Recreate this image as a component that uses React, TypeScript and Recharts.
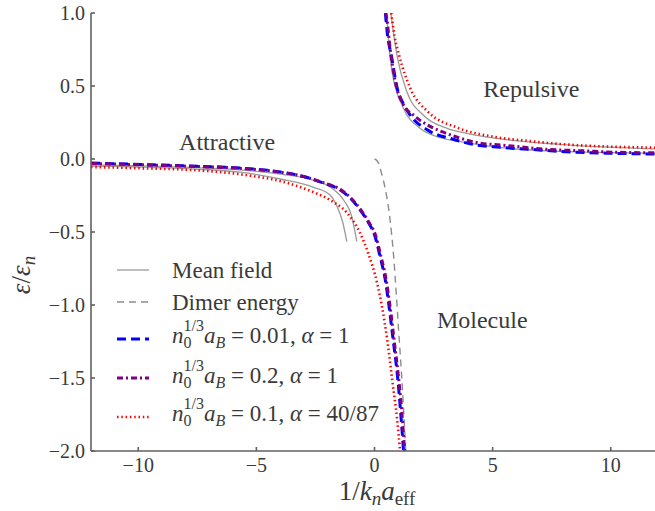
import React from 'react';
import { Line, LineChart, ReferenceDot, XAxis, YAxis } from 'recharts';

const FONT = "'Liberation Serif', 'Times New Roman', 'DejaVu Serif', serif";
const TEXT = '#3a3a3a';
const AXIS = '#606060';

const xTicks = [-10, -5, 0, 5, 10];
const yTicks = [-2, -1.5, -1, -0.5, 0, 0.5, 1];

// mean field, two branches each side
const meanFieldRepA = [
  { x: 0.52, y: 1.0 }, { x: 0.6, y: 0.8 }, { x: 0.74, y: 0.6 }, { x: 1.22, y: 0.35 },
  { x: 1.93, y: 0.21 }, { x: 2.64, y: 0.153 }, { x: 3.62, y: 0.119 }, { x: 5.0, y: 0.085 },
  { x: 7.85, y: 0.052 }, { x: 11.75, y: 0.039 }, { x: 12, y: 0.038 }
];
const meanFieldRepB = [
  { x: 0.69, y: 1.0 }, { x: 0.95, y: 0.712 }, { x: 1.37, y: 0.46 }, { x: 2.07, y: 0.3 },
  { x: 3.07, y: 0.21 }, { x: 3.9, y: 0.176 }, { x: 5.0, y: 0.145 }, { x: 7.85, y: 0.1 },
  { x: 11.75, y: 0.07 }, { x: 12, y: 0.069 }
];
const meanFieldAttA = [
  { x: -12, y: -0.04 }, { x: -9.8, y: -0.047 }, { x: -7.8, y: -0.058 }, { x: -5.68, y: -0.075 },
  { x: -3.99, y: -0.103 }, { x: -2.6, y: -0.144 }, { x: -1.88, y: -0.192 }, { x: -1.31, y: -0.281 },
  { x: -0.96, y: -0.395 }, { x: -0.75, y: -0.566 }
];
const meanFieldAttB = [
  { x: -12, y: -0.048 }, { x: -9.8, y: -0.055 }, { x: -7.8, y: -0.068 }, { x: -5.68, y: -0.09 },
  { x: -3.99, y: -0.137 }, { x: -2.6, y: -0.192 }, { x: -1.88, y: -0.247 }, { x: -1.6, y: -0.32 },
  { x: -1.35, y: -0.43 }, { x: -1.17, y: -0.566 }
];

const dimer = [
  { x: 0, y: 0 }, { x: 0.1, y: -0.01 }, { x: 0.17, y: -0.03 }, { x: 0.3, y: -0.1 },
  { x: 0.45, y: -0.2 }, { x: 0.66, y: -0.418 }, { x: 0.8, y: -0.646 }, { x: 0.875, y: -0.81 },
  { x: 1.02, y: -1.171 }, { x: 1.16, y: -1.514 }, { x: 1.3, y: -1.925 }, { x: 1.33, y: -2.02 }
];

// n0^(1/3) aB = 0.01, alpha = 1
const blueRep = [
  { x: 0.46, y: 1.0 }, { x: 0.55, y: 0.85 }, { x: 0.71, y: 0.712 }, { x: 0.96, y: 0.486 },
  { x: 1.25, y: 0.37 }, { x: 1.51, y: 0.301 }, { x: 2.23, y: 0.2 }, { x: 3.33, y: 0.135 },
  { x: 4.05, y: 0.104 }, { x: 5.31, y: 0.08 }, { x: 6.58, y: 0.066 }, { x: 7.85, y: 0.052 },
  { x: 9.84, y: 0.04 }, { x: 11.75, y: 0.034 }, { x: 12, y: 0.033 }
];
const blueAtt = [
  { x: -12, y: -0.028 }, { x: -9.8, y: -0.038 }, { x: -7.8, y: -0.048 }, { x: -5.68, y: -0.062 },
  { x: -3.99, y: -0.089 }, { x: -3, y: -0.12 }, { x: -2.17, y: -0.164 }, { x: -1.45, y: -0.212 },
  { x: -1.03, y: -0.267 }, { x: -0.61, y: -0.349 }, { x: -0.27, y: -0.432 }, { x: 0.03, y: -0.534 },
  { x: 0.24, y: -0.671 }, { x: 0.45, y: -0.822 }, { x: 0.62, y: -1.014 }, { x: 0.79, y: -1.24 },
  { x: 0.96, y: -1.466 }, { x: 1.09, y: -1.699 }, { x: 1.21, y: -1.959 }, { x: 1.24, y: -2.03 }
];

// n0^(1/3) aB = 0.2, alpha = 1
const purpleRep = [
  { x: 0.48, y: 1.0 }, { x: 0.52, y: 0.964 }, { x: 0.66, y: 0.758 }, { x: 0.88, y: 0.53 },
  { x: 1.23, y: 0.37 }, { x: 1.65, y: 0.3 }, { x: 2.22, y: 0.235 }, { x: 2.86, y: 0.187 },
  { x: 3.56, y: 0.146 }, { x: 4.17, y: 0.118 }, { x: 5.82, y: 0.089 }, { x: 7.3, y: 0.066 },
  { x: 8.7, y: 0.057 }, { x: 10.26, y: 0.046 }, { x: 11.45, y: 0.043 }, { x: 12, y: 0.042 }
];
const purpleAtt = [
  { x: -12, y: -0.03 }, { x: -9.8, y: -0.04 }, { x: -7.8, y: -0.05 }, { x: -5.68, y: -0.064 },
  { x: -3.99, y: -0.09 }, { x: -3, y: -0.12 }, { x: -2.17, y: -0.162 }, { x: -1.45, y: -0.208 },
  { x: -1.03, y: -0.262 }, { x: -0.61, y: -0.342 }, { x: -0.27, y: -0.425 }, { x: 0.05, y: -0.525 },
  { x: 0.27, y: -0.665 }, { x: 0.48, y: -0.815 }, { x: 0.66, y: -1.01 }, { x: 0.83, y: -1.24 },
  { x: 1.0, y: -1.47 }, { x: 1.14, y: -1.7 }, { x: 1.26, y: -1.96 }, { x: 1.29, y: -2.03 }
];

// n0^(1/3) aB = 0.1, alpha = 40/87
const redRep = [
  { x: 0.71, y: 1.0 }, { x: 0.85, y: 0.84 }, { x: 1.04, y: 0.712 }, { x: 1.51, y: 0.486 },
  { x: 2.27, y: 0.322 }, { x: 3.5, y: 0.215 }, { x: 5.02, y: 0.153 }, { x: 6.45, y: 0.125 },
  { x: 7.85, y: 0.103 }, { x: 9.26, y: 0.089 }, { x: 11.75, y: 0.078 }, { x: 12, y: 0.077 }
];
const redAtt = [
  { x: -12, y: -0.055 }, { x: -9.8, y: -0.064 }, { x: -7.8, y: -0.075 }, { x: -5.68, y: -0.105 },
  { x: -3.7, y: -0.164 }, { x: -2.6, y: -0.226 }, { x: -1.88, y: -0.281 }, { x: -1.16, y: -0.37 },
  { x: -0.61, y: -0.507 }, { x: -0.27, y: -0.644 }, { x: 0.11, y: -0.849 }, { x: 0.32, y: -1.014 },
  { x: 0.54, y: -1.24 }, { x: 0.75, y: -1.514 }, { x: 0.96, y: -1.788 }, { x: 1.08, y: -1.993 },
  { x: 1.1, y: -2.03 }
];

const GRAY = '#9a9a9a';
const BLUE = '#0000ff';
const PURPLE = '#800080';
const RED = '#ff0000';

const styles = {
  mean: { stroke: GRAY, strokeWidth: 1.3, strokeDasharray: undefined as string | undefined },
  dimer: { stroke: '#8c8c8c', strokeWidth: 1.4, strokeDasharray: '7 5' },
  blue: { stroke: BLUE, strokeWidth: 3, strokeDasharray: '9 5' },
  purple: { stroke: PURPLE, strokeWidth: 3, strokeDasharray: '6 3 2 3' },
  red: { stroke: RED, strokeWidth: 2.6, strokeDasharray: '1.5 2.8' }
};

const fmtX = (v: number) => (v < 0 ? '\u2212' + Math.abs(v) : String(v));
const fmtY = (v: number) => (v < 0 ? '\u2212' + Math.abs(v).toFixed(1) : v.toFixed(1));

function MathEntry({ x, y, val, alpha }: { x: number; y: number; val: string; alpha: string }) {
  return (
    <text x={x} y={y} fontSize={23} fill={TEXT} fontFamily={FONT}>
      <tspan fontStyle="italic">n</tspan>
      <tspan fontSize={16} dy={5}>0</tspan>
      <tspan fontSize={16} dx={-8} dy={-17}>1/3</tspan>
      <tspan fontStyle="italic" dy={12}>a</tspan>
      <tspan fontStyle="italic" fontSize={16} dy={5}>B</tspan>
      <tspan dy={-5}>{` = ${val}, `}</tspan>
      <tspan fontStyle="italic">α</tspan>
      <tspan>{` = ${alpha}`}</tspan>
    </text>
  );
}

function Overlay() {
  const sx1 = 117;
  const sx2 = 149;
  return (
    <svg width={655} height={511} style={{ position: 'absolute', left: 0, top: 0, pointerEvents: 'none' }}>
      <line x1={sx1} x2={sx2} y1={270} y2={270} {...styles.mean} />
      <text x={172} y={278} fontSize={23} fill={TEXT} fontFamily={FONT}>Mean field</text>
      <line x1={sx1} x2={sx2} y1={302} y2={302} {...styles.dimer} />
      <text x={172} y={310} fontSize={23} fill={TEXT} fontFamily={FONT}>Dimer energy</text>
      <line x1={sx1} x2={sx2} y1={339} y2={339} {...styles.blue} />
      <MathEntry x={172} y={343} val="0.01" alpha="1" />
      <line x1={sx1} x2={sx2} y1={378} y2={378} {...styles.purple} />
      <MathEntry x={172} y={383} val="0.2" alpha="1" />
      <line x1={sx1} x2={sx2} y1={417} y2={417} {...styles.red} />
      <MathEntry x={172} y={421} val="0.1" alpha="40/87" />

      <text x={377} y={500} textAnchor="middle" fontSize={27} fill={TEXT} fontFamily={FONT}>
        1/<tspan fontStyle="italic">k</tspan>
        <tspan fontStyle="italic" fontSize={19} dy={5}>n</tspan>
        <tspan fontStyle="italic" dy={-5}>a</tspan>
        <tspan fontSize={19} dy={5}>eff</tspan>
      </text>
      <text x={30} y={275} textAnchor="middle" fontSize={27} fill={TEXT} fontFamily={FONT} transform="rotate(-90 30 275)">
        <tspan fontStyle="italic">ε</tspan>/<tspan fontStyle="italic">ε</tspan>
        <tspan fontStyle="italic" fontSize={19} dy={5}>n</tspan>
      </text>
    </svg>
  );
}

export default function App() {
  const tickStyle = { fill: TEXT, fontSize: 20, fontFamily: FONT };
  const lbl = { fill: TEXT, fontSize: 24, fontFamily: FONT, position: 'center' as const };
  return (
    <div style={{ position: 'absolute', left: 0, top: 0, width: 655, height: 511, fontFamily: FONT, background: '#fff' }}>
      <LineChart width={655} height={511} margin={{ top: 13, right: -3, bottom: 0, left: 0 }} style={{ fontFamily: FONT }}>
        <XAxis
          xAxisId="b"
          type="number"
          dataKey="x"
          domain={[-12, 12]}
          ticks={xTicks}
          allowDataOverflow
          height={60}
          tickSize={-4}
          tickMargin={11}
          stroke={AXIS}
          strokeWidth={1.6}
          tick={tickStyle}
          tickFormatter={fmtX}
        />
        <XAxis
          xAxisId="t"
          orientation="top"
          type="number"
          dataKey="x"
          domain={[-12, 12]}
          ticks={xTicks}
          allowDataOverflow
          height={0}
          tickSize={-4}
          stroke={AXIS}
          strokeWidth={1.6}
          tick={() => <g />}
        />
        <YAxis
          type="number"
          domain={[-2, 1]}
          ticks={yTicks}
          allowDataOverflow
          width={91}
          tickSize={-4}
          tickMargin={10}
          stroke={AXIS}
          strokeWidth={1.6}
          tick={tickStyle}
          tickFormatter={fmtY}
        />
        <Line xAxisId="b" data={meanFieldAttA} dataKey="y" type="monotone" dot={false} isAnimationActive={false} {...styles.mean} />
        <Line xAxisId="b" data={meanFieldAttB} dataKey="y" type="monotone" dot={false} isAnimationActive={false} {...styles.mean} />
        <Line xAxisId="b" data={meanFieldRepA} dataKey="y" type="monotone" dot={false} isAnimationActive={false} {...styles.mean} />
        <Line xAxisId="b" data={meanFieldRepB} dataKey="y" type="monotone" dot={false} isAnimationActive={false} {...styles.mean} />
        <Line xAxisId="b" data={dimer} dataKey="y" type="monotone" dot={false} isAnimationActive={false} {...styles.dimer} />
        <Line xAxisId="b" data={blueAtt} dataKey="y" type="monotone" dot={false} isAnimationActive={false} {...styles.blue} />
        <Line xAxisId="b" data={blueRep} dataKey="y" type="monotone" dot={false} isAnimationActive={false} {...styles.blue} />
        <Line xAxisId="b" data={purpleAtt} dataKey="y" type="monotone" dot={false} isAnimationActive={false} {...styles.purple} />
        <Line xAxisId="b" data={purpleRep} dataKey="y" type="monotone" dot={false} isAnimationActive={false} {...styles.purple} />
        <Line xAxisId="b" data={redAtt} dataKey="y" type="monotone" dot={false} isAnimationActive={false} {...styles.red} />
        <Line xAxisId="b" data={redRep} dataKey="y" type="monotone" dot={false} isAnimationActive={false} {...styles.red} />
        <ReferenceDot xAxisId="b" x={-6.24} y={0.123} r={0} fill="none" stroke="none" label={{ ...lbl, value: 'Attractive' }} />
        <ReferenceDot xAxisId="b" x={6.64} y={0.486} r={0} fill="none" stroke="none" label={{ ...lbl, value: 'Repulsive' }} />
        <ReferenceDot xAxisId="b" x={4.56} y={-1.1} r={0} fill="none" stroke="none" label={{ ...lbl, value: 'Molecule' }} />
      </LineChart>
      <Overlay />
    </div>
  );
}
